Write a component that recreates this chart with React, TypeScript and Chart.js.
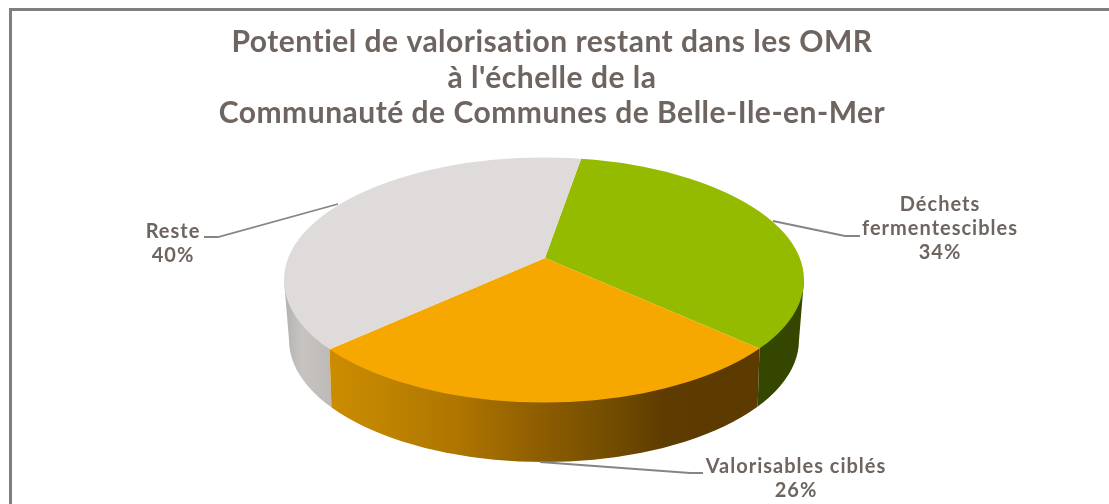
import React, { useEffect, useRef } from "react";
import { Chart, registerables } from "chart.js";

Chart.register(...registerables);

const categories = ["Déchets fermentescibles", "Valorisables ciblés", "Reste"];
const labelLines = [["Déchets", "fermentescibles"], ["Valorisables ciblés"], ["Reste"]];
const shares = [34.4, 26, 39.6];
const topColors = ["#95BB00", "#F6A800", "#DFDBDB"];
const titleLines = [
  "Potentiel de valorisation restant dans les OMR",
  "à l'échelle de la",
  "Communauté de Communes de Belle-Ile-en-Mer",
];
const ink = "#6E6560";
const fontFamily = "Lato, sans-serif";

// Perspective of the pie: apex, top-face ellipse, bottom-face ellipse
const apex = { x: 545, y: 258 };
const squash = 0.45;
const top = { x: 544, y: 280, rx: 260, ry: 122.5 };
const bottom = { x: 544, y: 340, rx: 255, ry: 122 };
const depthDrop = 59;

// Label anchors and leader lines per slice
const labelCentres = [
  { x: 940, y: 211 },
  { x: 796, y: 473 },
  { x: 173, y: 238 },
];
const leaders = [
  [[773, 221], [845, 236], [860, 236]],
  [[540, 462], [690, 473], [703, 473]],
  [[338, 204], [218, 237], [204, 237]],
];

function rim(a: number, e: typeof top, ox: number, oy: number) {
  const dx = Math.cos(a);
  const dy = Math.sin(a) * squash;
  const px = (ox - e.x) / e.rx;
  const py = (oy - e.y) / e.ry;
  const qx = dx / e.rx;
  const qy = dy / e.ry;
  const A = qx * qx + qy * qy;
  const B = 2 * (px * qx + py * qy);
  const C = px * px + py * py - 1;
  const t = (-B + Math.sqrt(B * B - 4 * A * C)) / (2 * A);
  return { x: ox + dx * t, y: oy + dy * t };
}

const pie3d = {
  id: "pie3d",
  beforeDatasetsDraw(chart: any) {
    const ctx = chart.ctx;
    const arcs = chart.getDatasetMeta(0).data;
    const hull = () => {
      ctx.beginPath();
      ctx.moveTo(top.x - top.rx, top.y);
      ctx.lineTo(bottom.x - bottom.rx, bottom.y);
      ctx.ellipse(bottom.x, bottom.y, bottom.rx, bottom.ry, 0, Math.PI, 0, true);
      ctx.lineTo(top.x + top.rx, top.y);
      ctx.closePath();
    };
    const seam = (a: number) => ({
      t: rim(a, top, apex.x, apex.y),
      b: rim(a, bottom, apex.x, apex.y + depthDrop),
    });
    const greenEnd = seam(arcs[0].endAngle);
    const orangeEnd = seam(arcs[1].endAngle);

    const orange = ctx.createLinearGradient(orangeEnd.t.x, 0, greenEnd.t.x, 0);
    orange.addColorStop(0, "#CC8C00");
    orange.addColorStop(0.12, "#C08400");
    orange.addColorStop(0.3, "#AE7500");
    orange.addColorStop(0.5, "#8C5C00");
    orange.addColorStop(0.68, "#6E4A00");
    orange.addColorStop(0.78, "#5E3C00");
    orange.addColorStop(1, "#5C3A00");

    const gray = ctx.createLinearGradient(top.x - top.rx, 0, orangeEnd.t.x, 0);
    gray.addColorStop(0, "#B4B2B0");
    gray.addColorStop(0.4, "#C6C3C1");
    gray.addColorStop(1, "#BDBAB8");

    const left = -20;
    const right = 1129;
    const bands: [any, number[][]][] = [
      [gray, [[left, 0], [orangeEnd.t.x, 0], [orangeEnd.t.x, orangeEnd.t.y], [orangeEnd.b.x, orangeEnd.b.y], [orangeEnd.b.x, 504], [left, 504]]],
      [orange, [[orangeEnd.t.x, orangeEnd.t.y], [greenEnd.t.x, greenEnd.t.y], [greenEnd.b.x, greenEnd.b.y], [greenEnd.b.x, 504], [orangeEnd.b.x, 504], [orangeEnd.b.x, orangeEnd.b.y]]],
      ["#344600", [[right, 0], [greenEnd.t.x, 0], [greenEnd.t.x, greenEnd.t.y], [greenEnd.b.x, greenEnd.b.y], [greenEnd.b.x, 504], [right, 504]]],
    ];
    for (const [fill, poly] of bands) {
      ctx.save();
      hull();
      ctx.clip();
      ctx.beginPath();
      poly.forEach((p, i) => (i ? ctx.lineTo(p[0], p[1]) : ctx.moveTo(p[0], p[1])));
      ctx.closePath();
      ctx.fillStyle = fill;
      ctx.fill();
      ctx.restore();
    }

    // top face: the library's arcs, projected and trimmed to the top ellipse
    const arc = arcs[0];
    const k = 345 / arc.outerRadius;
    ctx.save();
    ctx.beginPath();
    ctx.ellipse(top.x, top.y, top.rx, top.ry, 0, 0, Math.PI * 2);
    ctx.clip();
    ctx.translate(apex.x, apex.y);
    ctx.scale(k, k * squash);
    ctx.translate(-arc.x, -arc.y);
  },
  afterDatasetsDraw(chart: any) {
    const ctx = chart.ctx;
    ctx.restore();

    ctx.strokeStyle = "#858585";
    ctx.lineWidth = 1.8;
    for (const line of leaders) {
      ctx.beginPath();
      line.forEach((p, i) => (i ? ctx.lineTo(p[0], p[1]) : ctx.moveTo(p[0], p[1])));
      ctx.stroke();
    }

    ctx.fillStyle = ink;
    ctx.textAlign = "center";
    ctx.textBaseline = "alphabetic";
    ctx.font = `bold 20px ${fontFamily}`;
    (ctx as any).letterSpacing = "1px";
    categories.forEach((_, i) => {
      const rows = [...labelLines[i], `${Math.round(shares[i])}%`];
      rows.forEach((r, j) => ctx.fillText(r, labelCentres[i].x, labelCentres[i].y + j * 24));
    });

    ctx.font = `bold 30px ${fontFamily}`;
    (ctx as any).letterSpacing = "0.5px";
    titleLines.forEach((t, j) => ctx.fillText(t, 552, 52 + j * 35.5));
    (ctx as any).letterSpacing = "0px";

    ctx.strokeStyle = "#7F7F7F";
    ctx.lineWidth = 3;
    ctx.beginPath();
    ctx.moveTo(10.5, 520);
    ctx.lineTo(10.5, 9.5);
    ctx.lineTo(1125, 9.5);
    ctx.stroke();
  },
};

export default function App() {
  const ref = useRef<HTMLCanvasElement>(null);
  useEffect(() => {
    const chart = new Chart(ref.current!, {
      type: "pie",
      data: {
        labels: categories,
        datasets: [{ data: shares, backgroundColor: topColors, borderWidth: 0 }],
      },
      options: {
        responsive: false,
        animation: false,
        rotation: 9.3,
        plugins: { legend: { display: false }, tooltip: { enabled: false } },
      },
      plugins: [pie3d],
    });
    return () => chart.destroy();
  }, []);
  return (
    <canvas
      ref={ref}
      width={1109}
      height={504}
      style={{ position: "fixed", left: 0, top: 0, display: "block", background: "#fff" }}
    />
  );
}
